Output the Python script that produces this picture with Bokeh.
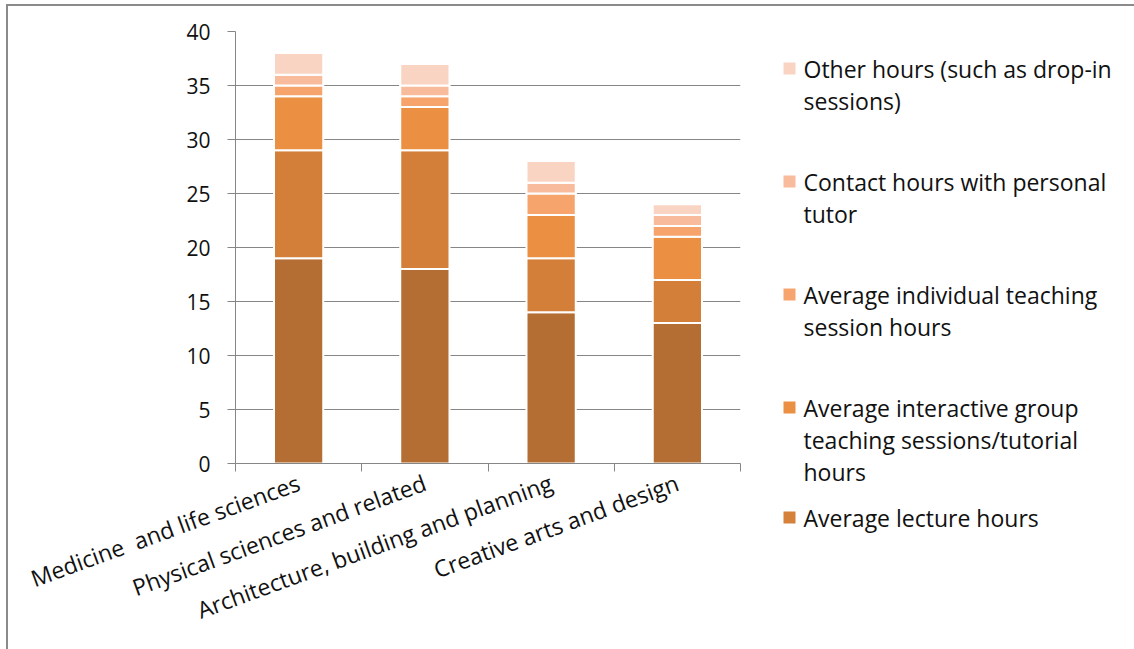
from bokeh.plotting import figure
from bokeh.layouts import row
from bokeh.models import FixedTicker, Range1d
from bokeh.core.properties import value
from bokeh.embed import file_html
from bokeh.resources import INLINE

categories = ["Medicine\u00a0 and life sciences", "Physical sciences and related",
              "Architecture, building and planning", "Creative arts and design"]
base_hours = [19, 18, 14, 13]
lecture = [10, 11, 5, 4]
interactive = [5, 4, 4, 4]
individual = [1, 1, 2, 1]
contact = [1, 1, 1, 1]
other = [2, 2, 2, 1]
series = [base_hours, lecture, interactive, individual, contact, other]
colors = ["#B46D33", "#D37E39", "#EB8F43", "#F6A46C", "#F8BC9C", "#F9D4C3"]
legend_labels = [
    ["Other hours (such as drop-in", "sessions)"],
    ["Contact hours with personal", "tutor"],
    ["Average individual teaching", "session hours"],
    ["Average interactive group", "teaching sessions/tutorial", "hours"],
    ["Average lecture hours"],
]
legend_colors = ["#F9D4C2", "#F8BC9C", "#F6A56E", "#EB8F42", "#D58139"]
y_ticks = [0, 5, 10, 15, 20, 25, 30, 35, 40]

FONT = "Open Sans"
GRID = "#868686"

p = figure(width=752, height=643, output_backend="svg", toolbar_location=None,
           x_range=Range1d(0, len(categories)), y_range=Range1d(0, 40),
           min_border_left=227, min_border_right=20, min_border_top=25, min_border_bottom=186)
p.frame_align = False
p.outline_line_color = None
p.background_fill_color = "white"
p.border_fill_color = "white"

xs = [i + 0.5 for i in range(len(categories))]
bottom = [0] * len(categories)
for vals, col in zip(series, colors):
    top = [b + v for b, v in zip(bottom, vals)]
    p.vbar(x=xs, bottom=bottom, top=top, width=0.39, fill_color=col,
           line_color="white", line_width=2)
    bottom = top

# y axis
p.yaxis.ticker = FixedTicker(ticks=y_ticks)
p.yaxis.axis_line_color = GRID
p.yaxis.major_tick_line_color = GRID
p.yaxis.major_tick_in = 0
p.yaxis.major_tick_out = 8
p.yaxis.minor_tick_line_color = None
p.yaxis.major_label_text_font = FONT
p.yaxis.major_label_text_font_size = "21px"
p.yaxis.major_label_text_color = "#111111"
p.yaxis.major_label_standoff = 17
p.ygrid.grid_line_color = GRID
p.ygrid.ticker = FixedTicker(ticks=y_ticks)
p.xgrid.grid_line_color = None

# x axis
p.xaxis.ticker = FixedTicker(ticks=xs, minor_ticks=list(range(len(categories) + 1)))
p.xaxis.major_label_overrides = {x: c for x, c in zip(xs, categories)}
p.xaxis.axis_line_color = GRID
p.xaxis.major_tick_line_color = None
p.xaxis.minor_tick_line_color = GRID
p.xaxis.minor_tick_in = 0
p.xaxis.minor_tick_out = 8
p.xaxis.major_label_orientation = 0.35
p.xaxis.major_label_text_font = FONT
p.xaxis.major_label_text_font_size = "23px"
p.xaxis.major_label_text_color = "#111111"
p.xaxis.major_label_standoff = 10

# legend panel
leg = figure(width=374, height=643, output_backend="svg", toolbar_location=None,
             x_range=Range1d(0, 374), y_range=Range1d(643, 0),
             min_border=0, min_border_left=0, min_border_right=0,
             min_border_top=0, min_border_bottom=0)
leg.frame_align = False
leg.axis.visible = False
leg.grid.visible = False
leg.outline_line_color = None
leg.background_fill_color = "white"
leg.border_fill_color = "white"

first_line_y = [62, 175, 288, 401, 511]
line_h = 32
for lines, col, y0 in zip(legend_labels, legend_colors, first_line_y):
    leg.rect(x=[29], y=[y0], width=12, height=12, fill_color=col, line_color=None)
    leg.text(x=[43] * len(lines), y=[y0 + k * line_h for k in range(len(lines))], text=lines,
             text_font=value(FONT), text_font_size="23px", text_color="#111111",
             text_baseline="middle", text_align="left")

layout = row(p, leg, styles={"border-left": "2px solid #8a8a8a", "border-top": "2px solid #8a8a8a",
                             "margin-left": "6px", "margin-top": "4px"})

open("out.html", "w").write(file_html(layout, INLINE))
